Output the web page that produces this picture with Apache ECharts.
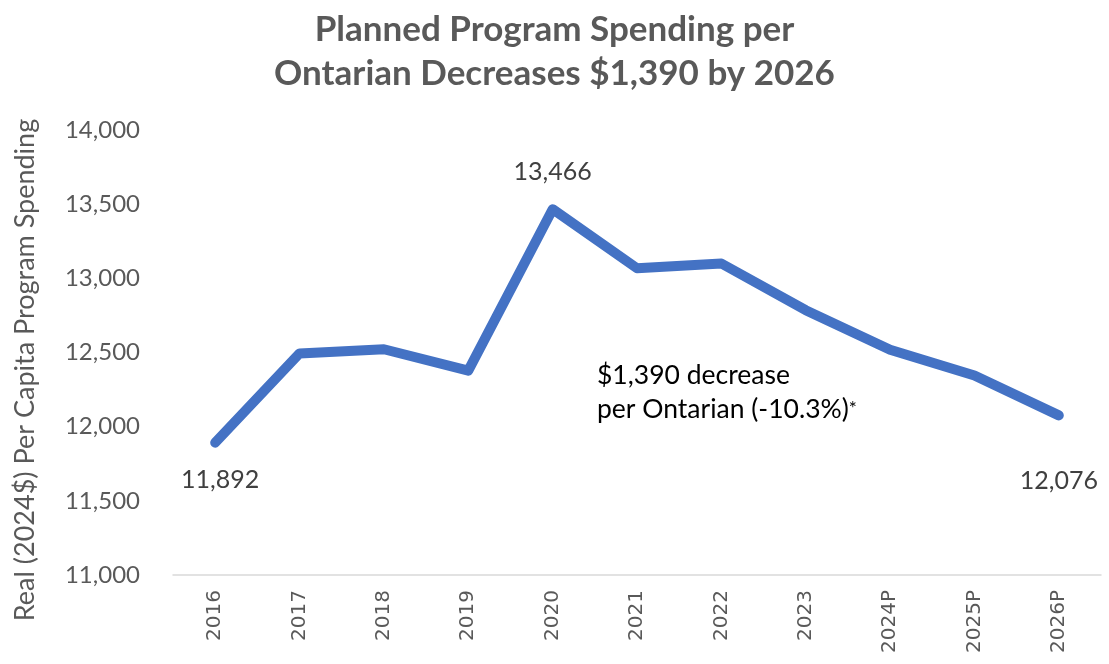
<!DOCTYPE html>
<html>
<head>
<meta charset="utf-8">
<script src="https://cdn.jsdelivr.net/npm/echarts@6/dist/echarts.min.js"></script>
<style>
  html, body { margin: 0; padding: 0; background: #fff; }
  #chart { width: 1109px; height: 664px; }
</style>
</head>
<body>
<div id="chart"></div>
<script>
const years = ['2016', '2017', '2018', '2019', '2020', '2021', '2022', '2023', '2024P', '2025P', '2026P'];
const spending = [11892, 12494, 12522, 12378, 13466, 13068, 13100, 12785, 12518, 12345, 12076];
// which points carry a value label, and where it sits
const labelled = { 0: 'bottom', 4: 'top', 10: 'bottom' };
const yTicks = { min: 11000, max: 14000, interval: 500 };

const font = 'Lato, "Open Sans", sans-serif';

const chart = echarts.init(document.getElementById('chart'));

const seriesData = spending.map((v, i) => {
  const pos = labelled[i];
  if (!pos) return v;
  return {
    value: v,
    label: {
      show: true,
      position: pos,
      distance: i === 10 ? 52 : 24,
      offset: i === 0 ? [5, 0] : [0, 0],
      formatter: (p) => p.value.toLocaleString('en-US')
    }
  };
});

chart.setOption({
  animation: false,
  title: {
    text: 'Planned Program Spending per\nOntarian Decreases $1,390 by 2026',
    left: 'center',
    top: 3,
    textStyle: {
      fontFamily: font,
      fontSize: 35,
      fontWeight: 'bold',
      color: '#595959',
      lineHeight: 44
    }
  },
  grid: { left: 173, right: 8, top: 130, bottom: 89 },
  xAxis: {
    type: 'category',
    data: years,
    boundaryGap: true,
    axisLine: { lineStyle: { color: '#d9d9d9', width: 1.5 } },
    axisTick: { show: false },
    axisLabel: {
      rotate: 90,
      margin: 15,
      fontFamily: '"DejaVu Sans", sans-serif',
      fontSize: 20,
      color: '#595959'
    }
  },
  yAxis: {
    type: 'value',
    min: yTicks.min,
    max: yTicks.max,
    interval: yTicks.interval,
    splitLine: { show: false },
    axisLine: { show: false },
    axisTick: { show: false },
    axisLabel: {
      margin: 33,
      fontFamily: font,
      fontSize: 24,
      color: '#595959',
      formatter: (v) => v.toLocaleString('en-US')
    }
  },
  series: [{
    type: 'line',
    data: seriesData,
    symbol: 'circle',
    symbolSize: 2,
    showSymbol: true,
    itemStyle: { color: '#4472c4' },
    lineStyle: { color: '#4472c4', width: 10, cap: 'round', join: 'round' },
    label: {
      fontFamily: font,
      fontSize: 25,
      color: '#404040'
    }
  }],
  graphic: [{
    type: 'text',
    x: 25,
    y: 370,
    rotation: Math.PI / 2,
    style: {
      text: 'Real (2024$) Per Capita Program Spending',
      fontFamily: font,
      fontSize: 27,
      fill: '#595959',
      align: 'center',
      verticalAlign: 'middle'
    }
  }, {
    type: 'text',
    left: 597,
    top: 358,
    style: {
      text: '$1,390 decrease\nper Ontarian (-10.3%){s|*}',
      rich: { s: { fontFamily: font, fontSize: 19, fill: '#000', verticalAlign: 'middle' } },
      fontFamily: font,
      fontSize: 26.5,
      lineHeight: 34,
      fill: '#000'
    }
  }]
});
</script>
</body>
</html>
